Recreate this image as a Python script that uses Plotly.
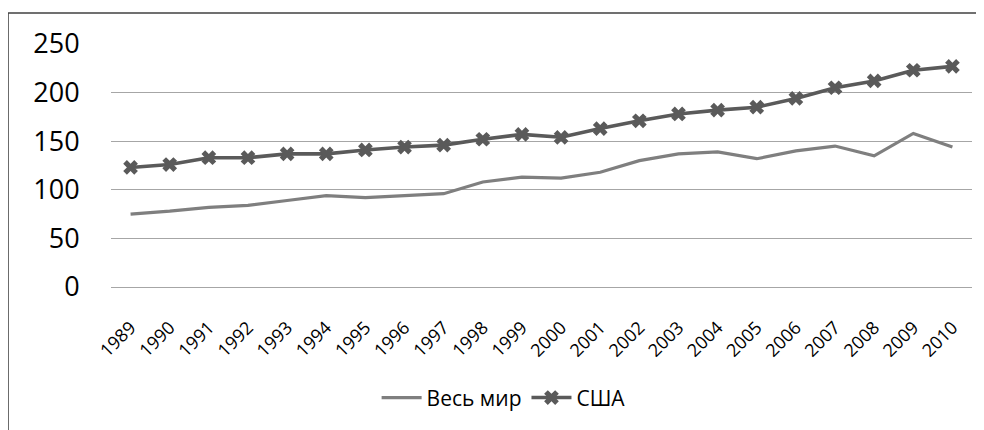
import plotly.graph_objects as go

years = [str(y) for y in range(1989, 2011)]

world = [75, 78, 82, 84, 89, 94, 92, 94, 96, 108, 113, 112, 118, 130, 137, 139,
         132, 140, 145, 135, 158, 144]

usa = [123, 126, 133, 133, 137, 137, 141, 144, 146, 152, 157, 154, 163, 171, 178, 182,
       185, 194, 205, 212, 223, 227]

y_ticks = [0, 50, 100, 150, 200, 250]

font_family = "Open Sans"

fig = go.Figure()

fig.add_trace(go.Scatter(
    x=years, y=world, name="Весь мир", mode="lines",
    line=dict(color="#7f7f7f", width=3.2),
))

fig.add_trace(go.Scatter(
    x=years, y=usa, name="США", mode="lines+markers",
    line=dict(color="#5a5a5a", width=3.6),
    marker=dict(symbol="x", size=13, color="#5a5a5a"),
))

# outer chart border (only top and left edges are visible in the crop)
fig.add_shape(type="line", xref="paper", yref="paper",
              x0=-0.1196, x1=1.05, y0=1.128, y1=1.128,
              line=dict(color="#404040", width=1.5))
fig.add_shape(type="line", xref="paper", yref="paper",
              x0=-0.1196, x1=-0.1196, y0=1.128, y1=-0.6,
              line=dict(color="#404040", width=1.5))

fig.update_xaxes(
    type="category", range=[-0.5, len(years) - 0.5],
    tickangle=-45, showgrid=False, zeroline=False,
    showline=False, ticks="outside", ticklen=22, tickcolor="rgba(0,0,0,0)",
    tickfont=dict(family=font_family, size=18, color="#000000"),
    automargin=False,
)
fig.update_yaxes(
    range=[0, 250], tickvals=y_ticks, showgrid=True, gridcolor="#a6a6a6",
    gridwidth=1, zeroline=True, zerolinecolor="#a6a6a6", zerolinewidth=1,
    showline=False,
    ticks="outside", ticklen=25, tickcolor="rgba(0,0,0,0)",
    tickfont=dict(family=font_family, size=27, color="#000000"),
    automargin=False,
)

# page body has an 8px default margin, so the figure is 8px smaller
fig.update_layout(
    width=976, height=422,
    margin=dict(l=103, r=12, t=36, b=136),
    paper_bgcolor="#ffffff", plot_bgcolor="#ffffff",
    font=dict(family=font_family),
    showlegend=True,
    legend=dict(orientation="h", x=0.456, xanchor="center", y=-0.372, yanchor="top",
                font=dict(family=font_family, size=21, color="#000000"),
                itemwidth=40, tracegroupgap=0),
)

fig.write_html("out.html")
